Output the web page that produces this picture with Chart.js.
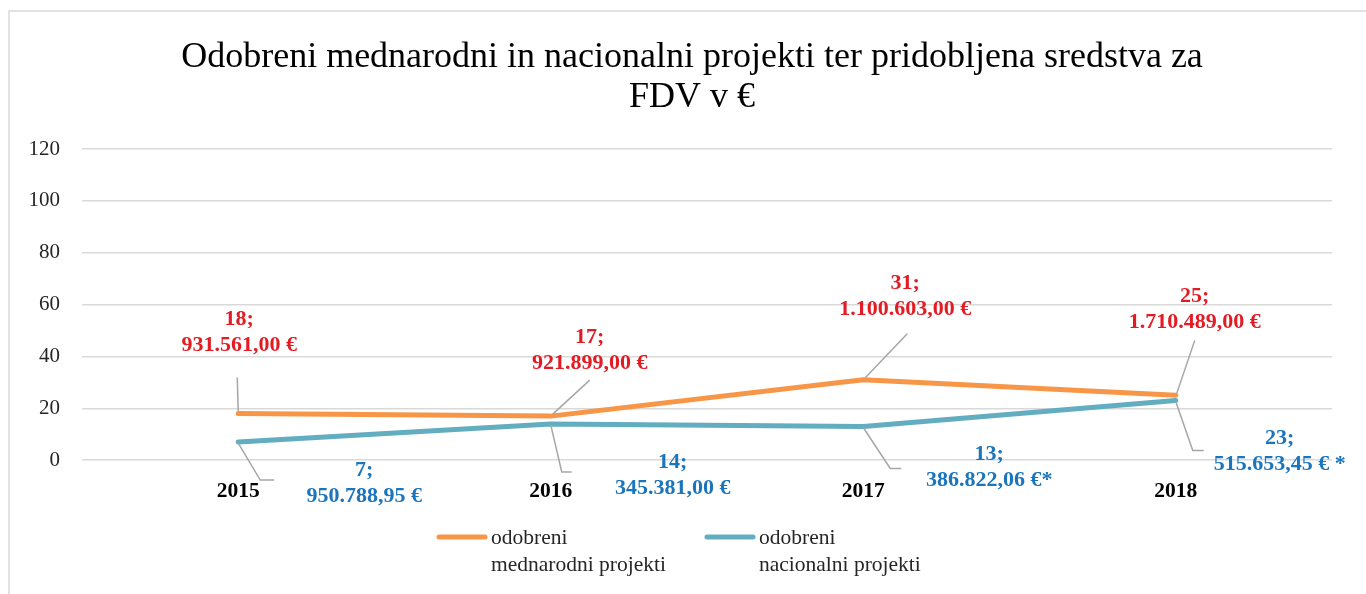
<!DOCTYPE html>
<html>
<head>
<meta charset="utf-8">
<script src="https://cdn.jsdelivr.net/npm/chart.js@4"></script>
<style>
  html, body { margin: 0; padding: 0; background: #fff; overflow: hidden; }
  #wrap { position: relative; width: 1366px; height: 594px; }
</style>
</head>
<body>
<div id="wrap"><canvas id="fdvChart"></canvas></div>
<script>
// chart data
const years = ['2015', '2016', '2017', '2018'];
const mednarodniCount = [18, 17, 31, 25];
const nacionalniCount = [7, 14, 13, 23];
const mednarodniEur = ['931.561,00 €', '921.899,00 €', '1.100.603,00 €', '1.710.489,00 €'];
const nacionalniEur = ['950.788,95 €', '345.381,00 €', '386.822,06 €*', '515.653,45 € *'];
const titleLines = ['Odobreni mednarodni in nacionalni projekti ter pridobljena sredstva za', 'FDV v €'];
const legendMednarodni = ['odobreni', 'mednarodni projekti'];
const legendNacionalni = ['odobreni', 'nacionalni projekti'];
const yMax = 120;
const yStep = 20;

const serif = "'Liberation Serif', 'DejaVu Serif', serif";
const orange = '#F79646';
const teal = '#62ADBF';

// where each data label sits relative to its point, plus its leader line
const labelLayout = [
    [ // mednarodni
        { dx: 1, dy: -94, leader: [[0, -2], [-1, -36]] },
        { dx: 39, dy: -79, leader: [[2, -2], [39, -36]] },
        { dx: 42, dy: -96, leader: [[2, -2], [44, -46]] },
        { dx: 19, dy: -99, leader: [[1, -2], [19, -55]] }
    ],
    [ // nacionalni
        { dx: 126, dy: 28, leader: [[0, 1], [22, 38], [36, 38]] },
        { dx: 122, dy: 38, leader: [[0, 1], [11, 48], [21, 48]] },
        { dx: 126, dy: 28, leader: [[0, 1], [27, 42], [38, 42]] },
        { dx: 104, dy: 38, leader: [[0, 1], [17, 50], [28, 50]] }
    ]
];

const frameAndLabels = {
    id: 'frameAndLabels',
    beforeDraw(chart) {
        const ctx = chart.ctx;
        ctx.save();
        ctx.strokeStyle = '#d9d9d9';
        ctx.lineWidth = 1.5;
        ctx.strokeRect(9, 11, 1400, 700);
        // title, centred on the frame rather than the plot
        ctx.fillStyle = '#000';
        ctx.font = `36px ${serif}`;
        ctx.textAlign = 'center';
        ctx.textBaseline = 'middle';
        ctx.fillText(titleLines[0], 692, 58);
        ctx.fillText(titleLines[1], 692, 98);
        ctx.restore();
    },
    afterDatasetsDraw(chart) {
        const ctx = chart.ctx;
        const texts = [
            { counts: mednarodniCount, eur: mednarodniEur, color: '#E31B23' },
            { counts: nacionalniCount, eur: nacionalniEur, color: '#1B75BC' }
        ];
        ctx.save();
        chart.data.datasets.forEach((ds, di) => {
            const meta = chart.getDatasetMeta(di);
            meta.data.forEach((pt, i) => {
                const lay = labelLayout[di][i];
                // leader line
                ctx.strokeStyle = '#a6a6a6';
                ctx.lineWidth = 1.5;
                ctx.beginPath();
                lay.leader.forEach(([lx, ly], k) => {
                    if (k === 0) ctx.moveTo(pt.x + lx, pt.y + ly);
                    else ctx.lineTo(pt.x + lx, pt.y + ly);
                });
                ctx.stroke();
                // label text
                ctx.fillStyle = texts[di].color;
                ctx.font = `bold 22px ${serif}`;
                ctx.textAlign = 'center';
                ctx.textBaseline = 'middle';
                ctx.fillText(texts[di].counts[i] + ';', pt.x + lay.dx, pt.y + lay.dy);
                ctx.fillText(texts[di].eur[i], pt.x + lay.dx, pt.y + lay.dy + 26);
            });
        });

        // legend
        const items = [
            { x: 437, lines: legendMednarodni, color: orange },
            { x: 705, lines: legendNacionalni, color: teal }
        ];
        ctx.font = `21.5px ${serif}`;
        ctx.textAlign = 'left';
        ctx.textBaseline = 'middle';
        items.forEach(item => {
            ctx.strokeStyle = item.color;
            ctx.lineWidth = 5;
            ctx.lineCap = 'round';
            ctx.beginPath();
            ctx.moveTo(item.x + 2, 537);
            ctx.lineTo(item.x + 48, 537);
            ctx.stroke();
            ctx.fillStyle = '#262626';
            ctx.fillText(item.lines[0], item.x + 54, 538);
            ctx.fillText(item.lines[1], item.x + 54, 565);
        });
        ctx.restore();
    }
};

const ctx = document.getElementById('fdvChart').getContext('2d');
new Chart(ctx, {
    type: 'line',
    data: {
        labels: years,
        datasets: [
            {
                label: legendMednarodni.join(' '),
                data: mednarodniCount,
                borderColor: orange,
                borderWidth: 5,
                borderCapStyle: 'round',
                borderJoinStyle: 'round',
                pointRadius: 0,
                tension: 0
            },
            {
                label: legendNacionalni.join(' '),
                data: nacionalniCount,
                borderColor: teal,
                borderWidth: 5,
                borderCapStyle: 'round',
                borderJoinStyle: 'round',
                pointRadius: 0,
                tension: 0
            }
        ]
    },
    options: {
        responsive: true,
        maintainAspectRatio: false,
        animation: false,
        layout: { padding: { top: 149, left: 0, right: 34, bottom: 72 } },
        plugins: {
            legend: { display: false },
            tooltip: { enabled: false },
            title: { display: false }
        },
        scales: {
            x: {
                offset: true,
                grid: { display: false, drawTicks: false },
                border: { display: false },
                ticks: { color: '#000', font: { family: serif, size: 21.5, weight: 'bold' }, padding: 18 }
            },
            y: {
                min: 0,
                max: yMax,
                grid: { color: '#d9d9d9', lineWidth: 1.5, drawTicks: false },
                border: { display: false },
                ticks: { stepSize: yStep, color: '#262626', font: { family: serif, size: 21 }, padding: 22 },
                afterFit: scale => { scale.width = 82; }
            }
        }
    },
    plugins: [frameAndLabels]
});
</script>
</body>
</html>
